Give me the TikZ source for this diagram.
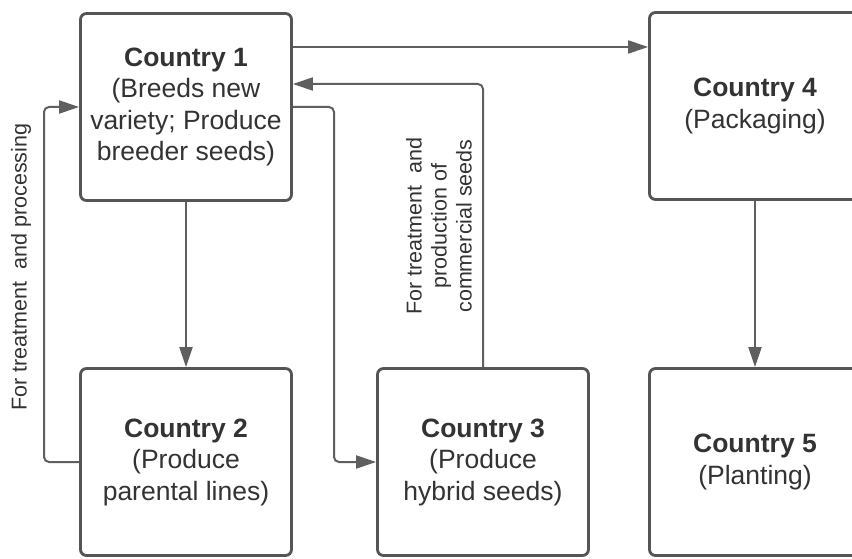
\documentclass[tikz,border=0pt]{standalone}
\usepackage{fontspec}
\setmainfont{Liberation Sans}
\usetikzlibrary{arrows.meta}
\definecolor{boxline}{HTML}{555555}
\definecolor{conline}{HTML}{5F5F5F}
\definecolor{txt}{HTML}{333333}
\begin{document}
\begin{tikzpicture}[x=1pt,y=-1pt,
  country/.style={draw=boxline, line width=2.8pt, rounded corners=6pt, fill=white,
    minimum width=211pt, minimum height=187pt, align=center, text=txt,
    font=\fontsize{26.5}{31.5}\selectfont, inner sep=0pt},
  conn/.style={draw=conline, line width=2pt, rounded corners=5pt},
  tip/.style={-{Triangle[length=20pt,width=13pt]}},
  lbl/.style={text=txt, font=\fontsize{21.5}{25}\selectfont, align=center, rotate=90, inner sep=0pt}]
\clip (0,0) rectangle (852,559);
\fill[white] (0,0) rectangle (852,559);
\node[country] (b1) at (186,107) {\textbf{Country 1}\\(Breeds new\\variety; Produce\\breeder seeds)};
\node[country] (b2) at (186,462) {\textbf{Country 2}\\(Produce\\parental lines)};
\node[country] (b3) at (483,462) {\textbf{Country 3}\\(Produce\\hybrid seeds)};
\node[country] (b4) at (755,106) {\textbf{Country 4}\\(Packaging)};
\node[country] (b5) at (755,462) {\textbf{Country 5}\\(Planting)};
\coordinate (c1) at (334,107);
\coordinate (c2) at (44,107);
\draw[conn,tip] (b1.east |- 0,47) -- (b4.west |- 0,47);
\draw[conn,tip] (b3.north) |- (b1.east |- 0,84);
\draw[conn,tip] (b1.east) -- (c1) |- (b3.west);
\draw[conn,tip] (b1.south) -- (b2.north);
\draw[conn,tip] (b2.west) -| (c2) -- (b1.west);
\draw[conn,tip] (b4.south) -- (b5.north);
\node[lbl] (l1) at (21,267) {For treatment\ \ and processing};
\node[lbl] (l2) at (439,226) {For treatment\ \ and\\production of\\commercial seeds};
\end{tikzpicture}
\end{document}
